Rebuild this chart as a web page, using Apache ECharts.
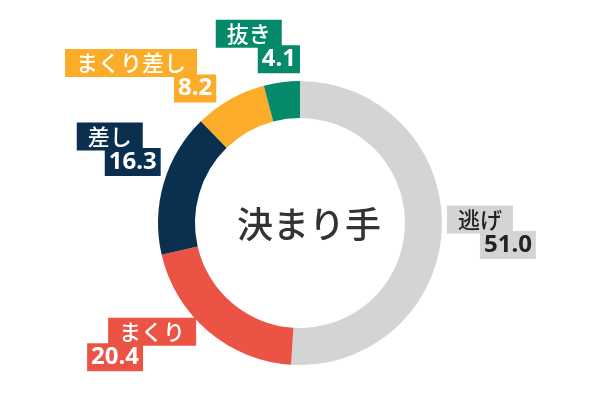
<!DOCTYPE html>
<html><head><meta charset="utf-8">
<script src="https://cdn.jsdelivr.net/npm/echarts@6/dist/echarts.min.js"></script>
<style>html,body{margin:0;padding:0;background:#fff}#c{width:600px;height:400px}</style>
</head><body><div id="c"></div>
<script>
const categories = ['逃げ', 'まくり', '差し', 'まくり差し', '抜き'];
const values = [51.0, 20.4, 16.3, 8.2, 4.1];
const colors = ['#d4d4d4', '#eb5445', '#0b2f4f', '#fbad2a', '#04896a'];
const centerTitle = '決まり手';

// label layout tweaks (relative to the library's own label anchors)
const nameGap = [0, 21, 0, 0, 0];
const valueGap = [33, 0, 28, 109, 42];
const labelShift = [[0, -19.5], [-116, -14], [-82, -58], [-160, -48], [-61, -60]];

const chart = echarts.init(document.getElementById('c'), null, {renderer: 'canvas'});

function richFor(i) {
  const txt = i === 0 ? '#222' : '#fff';
  return {
    s1: {width: nameGap[i] || 1, lineHeight: 29, align: 'left', fontSize: 10},
    s2: {width: valueGap[i] || 1, lineHeight: 28, align: 'left', fontSize: 10},
    n: {fontFamily: 'Noto Sans CJK JP', fontSize: 22, fontWeight: 500, lineHeight: 23, padding: [3, 11, 3, 11],
        backgroundColor: colors[i], color: txt, align: 'left'},
    v: {fontFamily: 'Noto Sans', fontSize: 24, fontWeight: 'bold', lineHeight: 22, padding: [2, 4, 2, 4],
        backgroundColor: colors[i], color: txt, align: 'left'}
  };
}

const data = categories.map((name, i) => ({
  name: name,
  value: values[i],
  itemStyle: {color: colors[i]},
  label: {
    formatter: (nameGap[i] ? '{s1| }' : '') + '{n|' + name + '}\n' +
               (valueGap[i] ? '{s2| }' : '') + '{v|' + values[i].toFixed(1) + '}',
    rich: richFor(i)
  }
}));

chart.setOption({
  animation: false,
  title: {
    text: centerTitle,
    left: 232, top: 201,
    textStyle: {fontFamily: 'Noto Sans CJK JP', fontSize: 36, fontWeight: 500, color: '#333'}
  },
  series: [{
    type: 'pie',
    center: [300, 223],
    radius: [105, 142],
    startAngle: 90,
    clockwise: true,
    avoidLabelOverlap: false,
    emphasis: {disabled: true},
    label: {show: true, position: 'outside'},
    labelLine: {show: false, length: 0, length2: 0},
    labelLayout: function (p) {
      const s = labelShift[p.dataIndex];
      return {dx: s[0], dy: s[1], align: 'left', verticalAlign: 'top'};
    },
    data: data
  }]
});
</script></body></html>
